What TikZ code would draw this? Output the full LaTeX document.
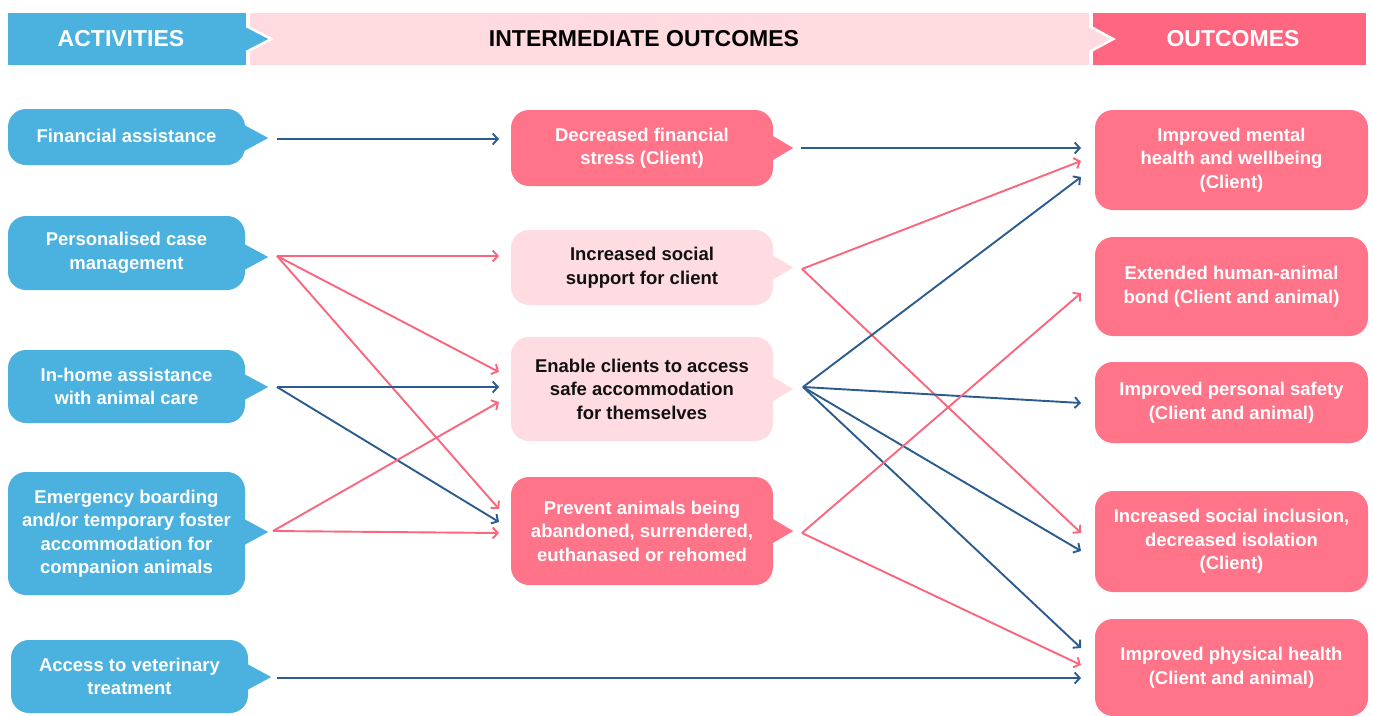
\documentclass[tikz,border=0pt]{standalone}
\usepackage{fontspec}
\setmainfont{Liberation Sans}
\usetikzlibrary{arrows.meta,calc}
\definecolor{actblue}{HTML}{4BB1DF}
\definecolor{hdrlight}{HTML}{FFDBE0}
\definecolor{intlight}{HTML}{FFDCE1}
\definecolor{pinkbox}{HTML}{FF7489}
\definecolor{hdrout}{HTML}{FF6680}
\definecolor{arrpink}{HTML}{F9667D}
\definecolor{arrblue}{HTML}{2B5C8F}
\definecolor{txtdark}{HTML}{111111}
\begin{document}
\begin{tikzpicture}[x=1pt,y=-1pt,
  box/.style={rounded corners=18pt, align=center, inner sep=0pt,
    font=\bfseries\fontsize{18.5}{23.5}\selectfont},
  actbox/.style={box, fill=actblue, text=white, minimum width=237pt},
  intdark/.style={box, fill=pinkbox, text=white, minimum width=262pt},
  intlite/.style={box, fill=intlight, text=txtdark, minimum width=262pt},
  outbox/.style={box, fill=pinkbox, text=white, minimum width=273pt},
  hdrbar/.style={inner sep=0pt, minimum height=52pt},
  hdrtext/.style={font=\bfseries\fontsize{23}{26}\selectfont, inner sep=0pt},
  conn/.style={line width=1.9pt, -{Straight Barb[length=5pt,width=11pt]}},
  bconn/.style={conn, draw=arrblue},
  pconn/.style={conn, draw=arrpink}
]
\useasboundingbox (0,0) rectangle (1373,715);

% ---------- headers ----------
\node[hdrbar, fill=actblue, minimum width=238pt] (hA) at (127,39) {};
\node[hdrbar, fill=hdrlight, minimum width=839pt] (hI) at (669.5,39) {};
\node[hdrbar, fill=hdrout, minimum width=273pt] (hO) at (1229.5,39) {};
\filldraw[fill=actblue, draw=white, line width=2.5pt, line join=miter]
  (hA.east) ++(0,-13) -- ++(25,13) -- ++(-25,13);
\filldraw[fill=hdrlight, draw=white, line width=2.5pt, line join=miter]
  (hI.east) ++(0,-13) -- ++(24,13) -- ++(-24,13);
\node[hdrtext, text=white] (tA) at (121,39) {ACTIVITIES};
\node[hdrtext, text=black] (tI) at (644,39) {INTERMEDIATE OUTCOMES};
\node[hdrtext, text=white] (tO) at (1233,39) {OUTCOMES};

% ---------- activities ----------
\node[actbox, minimum height=56pt] (a1) at (126.5,137) {\raisebox{2pt}{Financial assistance}};
\node[actbox, minimum height=74pt] (a2) at (126.5,253) {Personalised case\\management};
\node[actbox, minimum height=73pt] (a3) at (126.5,386.5) {In-home assistance\\with animal care};
\node[actbox, minimum height=123pt] (a4) at (126.5,533.5) {Emergency boarding\\and/or temporary foster\\accommodation for\\companion animals};
\node[actbox, minimum height=73pt] (a5) at (129.5,676.5) {Access to veterinary\\treatment};
\foreach \n/\dy in {a1/1,a2/4,a3/0.5,a4/-1.5,a5/0.5}{
  \fill[actblue] ($(\n.east)+(-1,\dy-13)$) -- ($(\n.east)+(23,\dy)$) -- ($(\n.east)+(-1,\dy+13)$) -- cycle;
}

% ---------- intermediate outcomes ----------
\node[intdark, minimum height=76pt] (i1) at (642,148) {Decreased financial\\stress (Client)};
\node[intlite, minimum height=75pt] (i2) at (642,267.5) {Increased social\\support for client};
\node[intlite, minimum height=104pt] (i3) at (642,389) {Enable clients to access\\safe accommodation\\for themselves};
\node[intdark, minimum height=108pt] (i4) at (642,531) {Prevent animals being\\abandoned, surrendered,\\euthanased or rehomed};
\foreach \n/\c in {i1/pinkbox,i2/intlight,i3/intlight,i4/pinkbox}{
  \fill[\c] ($(\n.east)+(-1,-12.5)$) -- ($(\n.east)+(20,0)$) -- ($(\n.east)+(-1,12.5)$) -- cycle;
}

% ---------- outcomes ----------
\node[outbox, minimum height=100pt] (o1) at (1231.5,160) {Improved mental\\health and wellbeing\\(Client)};
\node[outbox, minimum height=99pt] (o2) at (1231.5,286.5) {Extended human-animal\\bond (Client and animal)};
\node[outbox, minimum height=81pt] (o3) at (1231.5,402.5) {Improved personal safety\\(Client and animal)};
\node[outbox, minimum height=101pt] (o4) at (1231.5,541.5) {Increased social inclusion,\\decreased isolation\\(Client)};
\node[outbox, minimum height=97pt] (o5) at (1231.5,667.5) {Improved physical health\\(Client and animal)};

% ---------- connector end points ----------
\coordinate (a1s) at (277,139);
\coordinate (a2s) at (277,256);
\coordinate (a3s) at (277,387);
\coordinate (a4s) at (273,531);
\coordinate (a5s) at (277,678);
\coordinate (i1s) at (801,148);
\coordinate (i2s) at (802,269);
\coordinate (i3s) at (803,387);
\coordinate (i4s) at (802,533);
\coordinate (i1a) at (499,139);
\coordinate (i2a) at (499,256);
\coordinate (i3a) at (499,372);
\coordinate (i3b) at (499,387);
\coordinate (i3c) at (499,402);
\coordinate (i4a) at (499,509);
\coordinate (i4b) at (499,522);
\coordinate (i4c) at (499,533);
\coordinate (o1a) at (1081,148);
\coordinate (o1b) at (1081,161);
\coordinate (o1c) at (1081,177);
\coordinate (o2a) at (1081,293);
\coordinate (o3a) at (1081,403);
\coordinate (o4a) at (1081,533);
\coordinate (o4b) at (1081,551);
\coordinate (o5a) at (1081,648);
\coordinate (o5b) at (1081,665);
\coordinate (o5c) at (1081,678);

% ---------- connectors ----------
\draw[bconn] (a1s) -- (i1a);
\draw[pconn] (a2s) -- (i2a);
\draw[pconn] (a2s) -- (i3a);
\draw[pconn] (a2s) -- (i4a);
\draw[bconn] (a3s) -- (i3b);
\draw[bconn] (a3s) -- (i4b);
\draw[pconn] (a4s) -- (i3c);
\draw[pconn] (a4s) -- (i4c);
\draw[bconn] (a5s) -- (o5c);
\draw[bconn] (i1s) -- (o1a);
\draw[pconn] (i2s) -- (o1b);
\draw[pconn] (i2s) -- (o4a);
\draw[bconn] (i3s) -- (o1c);
\draw[bconn] (i3s) -- (o3a);
\draw[bconn] (i3s) -- (o4b);
\draw[bconn] (i3s) -- (o5a);
\draw[pconn] (i4s) -- (o2a);
\draw[pconn] (i4s) -- (o5b);
\end{tikzpicture}
\end{document}
